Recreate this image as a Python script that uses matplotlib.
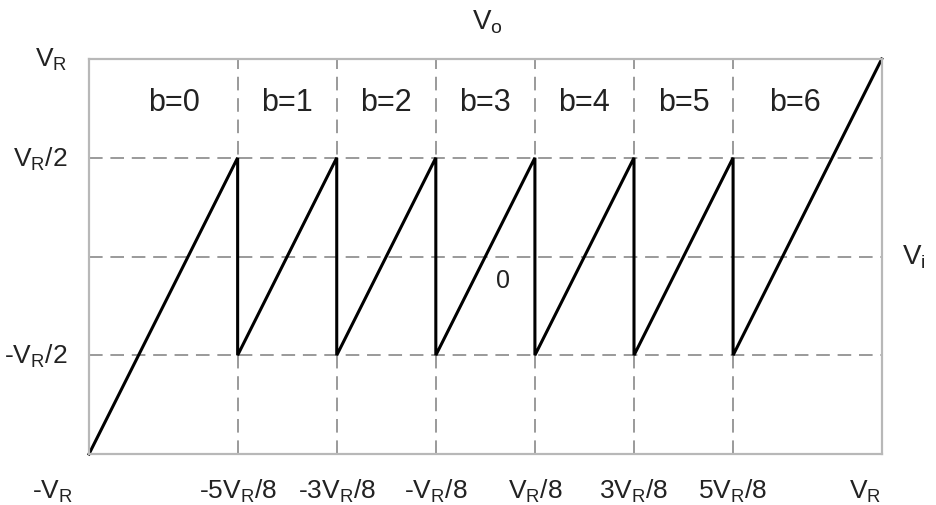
import matplotlib.pyplot as plt

plt.rcParams['font.family'] = ['Liberation Sans', 'DejaVu Sans']
plt.rcParams['mathtext.fontset'] = 'custom'
plt.rcParams['mathtext.rm'] = 'Liberation Sans'

# transfer curve of the stage, in units of V_R
vi_pts = [-1, -5/8, -5/8, -3/8, -3/8, -1/8, -1/8, 1/8, 1/8, 3/8, 3/8, 5/8, 5/8, 1]
vo_pts = [-1, 0.5, -0.5, 0.5, -0.5, 0.5, -0.5, 0.5, -0.5, 0.5, -0.5, 0.5, -0.5, 1]

# decision thresholds (vertical grid) and reference levels (horizontal grid)
thresholds = [-5/8, -3/8, -1/8, 1/8, 3/8, 5/8]
thr_labels = ['-5V$_\\mathregular{R}$/8', '-3V$_\\mathregular{R}$/8', '-V$_\\mathregular{R}$/8',
              'V$_\\mathregular{R}$/8', '3V$_\\mathregular{R}$/8', '5V$_\\mathregular{R}$/8']
levels = [0.5, 0.0, -0.5]
level_labels = {1.0: 'V$_\\mathregular{R}$', 0.5: 'V$_\\mathregular{R}$/2',
                -0.5: '-V$_\\mathregular{R}$/2'}

# output code of each segment
b_codes = ['b=0', 'b=1', 'b=2', 'b=3', 'b=4', 'b=5', 'b=6']
b_pos = [-0.785, -0.5, -0.25, 0.0, 0.25, 0.5, 0.78]

fig = plt.figure(figsize=(9.37, 5.06), dpi=100)
ax = fig.add_axes([0.095, 0.1008, 0.846, 0.7806])
ax.set_xlim(-1, 1)
ax.set_ylim(-1, 1)
ax.set_xticks([])
ax.set_yticks([])
for s in ax.spines.values():
    s.set_color('#b8b8b8')
    s.set_linewidth(1.6)

dash = dict(color='#9a9a9a', lw=1.4, dashes=(7, 4))
for t in thresholds:
    ax.axvline(t, **dash)
for lv in levels:
    ax.axhline(lv, **dash)

ax.plot(vi_pts, vo_pts, color='black', lw=2.2, solid_joinstyle='miter', clip_on=False)

fs = 19
txt = '#222222'
for t, lab in zip(thresholds, thr_labels):
    ax.text(t, -1.185, lab, ha='center', va='center', fontsize=fs, color=txt)
ax.text(1.0, -1.185, 'V$_\\mathregular{R}$', ha='right', va='center', fontsize=fs, color=txt)
ax.text(-1.04, -1.185, '-V$_\\mathregular{R}$', ha='right', va='center', fontsize=fs, color=txt)
for lv, lab in level_labels.items():
    ax.text(-1.055, lv, lab, ha='right', va='center', fontsize=fs, color=txt)

for x, lab in zip(b_pos, b_codes):
    ax.text(x, 0.78, lab, ha='center', va='center', fontsize=22, color=txt)

ax.text(0.045, -0.12, '0', ha='center', va='center', fontsize=18, color=txt)
ax.text(0.005, 1.19, 'V$_\\mathregular{o}$', ha='center', va='center', fontsize=20, color=txt)
ax.text(1.08, 0.0, 'V$_\\mathregular{i}$', ha='center', va='center', fontsize=20, color=txt)

fig.savefig('out.png', dpi=100)
